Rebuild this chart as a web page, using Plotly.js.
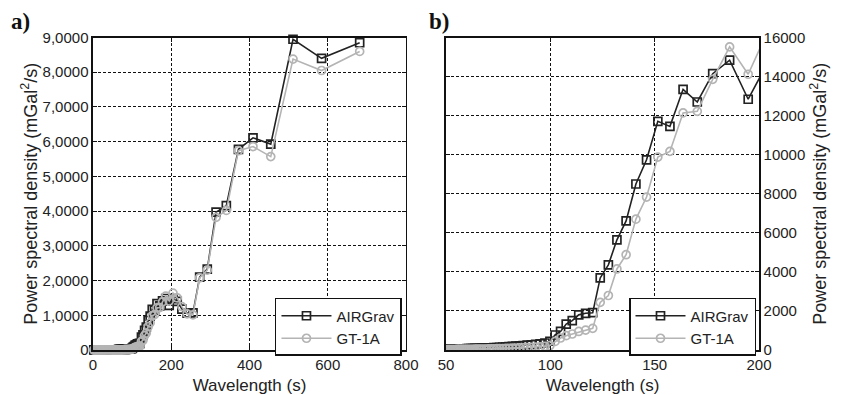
<!DOCTYPE html>
<html><head><meta charset="utf-8">
<script src="https://cdn.plot.ly/plotly-3.0.1.min.js"></script>
<style>body{margin:0;background:#fff}#c{width:850px;height:395px}</style>
</head><body><div id="c"></div>
<script>
// Wavelengths (s) for short-wavelength part (panel a only)
const shortWavelength = [2.0, 4.1, 6.8, 10.2, 13.6, 17.0, 20.5, 24.1, 27.3, 30.3, 34.1, 37.2, 40.9, 43.1, 45.4, 48.1];
const shortAIRGrav   = [30, 30, 30, 30, 30, 31, 31, 32, 32, 33, 34, 35, 36, 37, 38, 39];
const shortGT1A      = [15, 15, 15, 15, 15, 15, 16, 16, 16, 17, 17, 18, 18, 19, 19, 20];

// Main wavelengths (s)
const wavelength = [49.9, 50.5, 51.1, 51.8, 52.4, 53.1, 53.8, 54.5, 55.3, 56.0, 56.8, 57.6, 58.4, 59.3, 60.1, 61.0,
  62.0, 62.9, 63.9, 64.9, 66.0, 67.0, 68.2, 69.3, 70.5, 71.8, 73.0, 74.4, 75.7, 77.2, 78.7, 80.2, 81.8, 83.5, 85.2,
  87.0, 88.9, 90.9, 93.0, 95.1, 97.4, 99.8, 102.3, 104.9, 107.6, 110.5, 113.6, 116.9, 120.3, 123.9, 127.8, 131.9,
  136.3, 141.0, 146.1, 151.5, 157.3, 163.6, 170.4, 177.8, 185.9, 194.8, 204.5, 215.3, 227.2, 240.6, 255.6, 272.7,
  292.1, 314.6, 340.8, 371.8, 409.0, 454.4, 511.3, 584.3, 681.7];
// Power spectral density (mGal^2/s)
const airgrav = [40, 42, 44, 46, 48, 50, 52, 54, 56, 58, 60, 62, 64, 66, 68, 70,
  73, 76, 80, 84, 88, 92, 97, 102, 108, 115, 122, 130, 140, 150, 160, 172, 185, 200, 215,
  232, 250, 270, 295, 320, 360, 450, 770, 950, 1330, 1500, 1800, 1880, 1910, 3690, 4360, 5640,
  6610, 8500, 9740, 11710, 11450, 13350, 12700, 14150, 14840, 12840, 14800, 14000, 11800, 10600, 10700, 21000,
  23300, 39700, 41600, 57800, 61100, 59300, 89500, 84000, 88500];
const gt1a = [20, 21, 22, 23, 24, 25, 26, 27, 28, 29, 30, 31, 32, 33, 34, 35,
  37, 39, 41, 43, 45, 47, 50, 53, 56, 60, 64, 68, 72, 77, 82, 88, 94, 100, 108,
  116, 125, 135, 148, 165, 190, 230, 440, 615, 735, 820, 950, 1020, 1110, 2440, 2790, 4150,
  4880, 6700, 7830, 9880, 10170, 12140, 12220, 13860, 15520, 14120, 16400, 15000, 12500, 10400, 10100, 20800,
  23000, 38200, 40200, 57400, 58600, 55700, 83800, 80500, 86000];

const yTicksA = [0, 10000, 20000, 30000, 40000, 50000, 60000, 70000, 80000, 90000];
const yTickTextA = ['0', '1,0000', '2,0000', '3,0000', '4,0000', '5,0000', '6,0000', '7,0000', '8,0000', '9,0000'];

const seriesNames = ['AIRGrav', 'GT-1A'];
const DARK = '#222222', GREY = '#b4b4b4';
const FONT = 'Liberation Sans, Arial, sans-serif';

const xa = shortWavelength.concat(wavelength);
const ya1 = shortAIRGrav.concat(airgrav);
const ya2 = shortGT1A.concat(gt1a);

function tr(x, y, name, color, sym, xax, yax, leg, clip) {
  return {x: x, y: y, name: name, type: 'scatter', mode: 'lines+markers',
    xaxis: xax, yaxis: yax, legend: leg, cliponaxis: clip,
    line: {color: color, width: 1.6},
    marker: {symbol: sym, size: 8, color: color, line: {color: color, width: 1.7}}};
}
const data = [
  tr(xa, ya1, seriesNames[0], DARK, 'square-open', 'x', 'y', 'legend', false),
  tr(xa, ya2, seriesNames[1], GREY, 'circle-open', 'x', 'y', 'legend', false),
  tr(wavelength, airgrav, seriesNames[0], DARK, 'square-open', 'x2', 'y2', 'legend2', true),
  tr(wavelength, gt1a, seriesNames[1], GREY, 'circle-open', 'x2', 'y2', 'legend2', true)
];

const axCommon = {showline: true, linecolor: '#111', linewidth: 1.5, mirror: 'ticks', ticks: 'inside', ticklen: 4,
  tickcolor: '#111', showgrid: true, gridcolor: '#111', gridwidth: 1, griddash: '3px,2px', zeroline: false,
  tickfont: {family: FONT, size: 15, color: '#222'}};
const ytitle = {text: 'Power spectral density (mGal<sup>2</sup>/s)', font: {family: FONT, size: 18, color: '#222'}};
const xtitle = {text: 'Wavelength (s)', font: {family: FONT, size: 17, color: '#222'}};
const legCommon = {bgcolor: '#fff', bordercolor: '#111', borderwidth: 1.5, font: {family: FONT, size: 15, color: '#222'},
  xanchor: 'left', yanchor: 'top', tracegroupgap: 0, itemwidth: 50};

const layout = {
  width: 850, height: 395, margin: {l: 0, r: 0, t: 0, b: 0},
  paper_bgcolor: '#fff', plot_bgcolor: '#fff', showlegend: true,
  xaxis: Object.assign({}, axCommon, {domain: [0.1094, 0.4776], range: [0, 800], tickvals: [0, 200, 400, 600, 800], title: xtitle, anchor: 'y'}),
  yaxis: Object.assign({}, axCommon, {domain: [0.1139, 0.905], range: [0, 90000], tickvals: yTicksA, ticktext: yTickTextA, title: ytitle, anchor: 'x'}),
  xaxis2: Object.assign({}, axCommon, {domain: [0.5247, 0.893], range: [50, 200], tickvals: [50, 100, 150, 200], title: xtitle, anchor: 'y2'}),
  yaxis2: Object.assign({}, axCommon, {domain: [0.1139, 0.905], range: [0, 16000], dtick: 2000, tickformat: 'd', side: 'right', title: ytitle, anchor: 'x2'}),
  legend: Object.assign({}, legCommon, {x: 0.3235, y: 0.2456}),
  legend2: Object.assign({}, legCommon, {x: 0.74, y: 0.2456}),
  annotations: [
    {text: '<b>a)</b>', xref: 'paper', yref: 'paper', x: 0.024, y: 0.945, xanchor: 'center', yanchor: 'middle', showarrow: false,
     font: {family: 'Liberation Serif, Times New Roman, serif', size: 23, color: '#111'}},
    {text: '<b>b)</b>', xref: 'paper', yref: 'paper', x: 0.516, y: 0.945, xanchor: 'center', yanchor: 'middle', showarrow: false,
     font: {family: 'Liberation Serif, Times New Roman, serif', size: 23, color: '#111'}}
  ]
};
Plotly.newPlot('c', data, layout, {displayModeBar: false, staticPlot: true});
</script></body></html>
